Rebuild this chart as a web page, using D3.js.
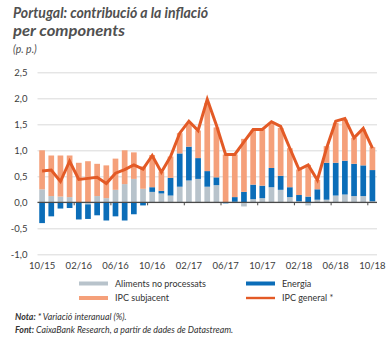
<!DOCTYPE html>
<html>
<head>
<meta charset="utf-8">
<script src="https://cdn.jsdelivr.net/npm/d3@7"></script>
<style>
  body { margin: 0; background: #fff; }
  text { font-family: Lato, "Open Sans", sans-serif; }
</style>
</head>
<body>
<div id="chart"></div>
<script>
const months = [
  "10/15", "11/15", "12/15", "01/16", "02/16", "03/16", "04/16", "05/16", "06/16",
  "07/16", "08/16", "09/16", "10/16", "11/16", "12/16", "01/17", "02/17", "03/17",
  "04/17", "05/17", "06/17", "07/17", "08/17", "09/17", "10/17", "11/17", "12/17",
  "01/18", "02/18", "03/18", "04/18", "05/18", "06/18", "07/18", "08/18", "09/18", "10/18"
];
const tickLabels = ["10/15", "02/16", "06/16", "10/16", "02/17", "06/17", "10/17", "02/18", "06/18", "10/18"];
const yTicks = [-1, -0.5, 0, 0.5, 1, 1.5, 2, 2.5];

// contributions in p.p.
const aliments = [
  0.25, 0.12, 0.11, 0.10, 0.00, -0.04, 0.12, 0.08, 0.24, 0.35, 0.45, 0.26, 0.20,
  0.17, 0.13, 0.30, 0.42, 0.45, 0.30, 0.33, 0.00, 0.01, -0.08, 0.06, 0.08, 0.29,
  0.24, 0.10, 0.02, -0.06, 0.05, 0.05, 0.13, 0.15, 0.12, 0.12, 0.02
];
const energia = [
  -0.40, -0.27, -0.12, -0.11, -0.33, -0.28, -0.25, -0.35, -0.27, -0.35, -0.23, -0.06, 0.09,
  0.05, 0.34, 0.64, 0.65, 0.40, 0.30, 0.15, -0.02, 0.09, 0.20, 0.28, 0.24, 0.37,
  0.27, 0.19, 0.12, 0.11, 0.20, 0.71, 0.63, 0.65, 0.62, 0.59, 0.60
];
const subjacent = [
  0.75, 0.78, 0.79, 0.80, 0.76, 0.79, 0.62, 0.63, 0.60, 0.65, 0.51, 0.43, 0.62,
  0.37, 0.41, 0.39, 0.45, 0.53, 1.31, 0.96, 0.92, 0.82, 1.02, 1.04, 1.08, 0.87,
  0.92, 0.75, 0.49, 0.61, 0.18, 0.32, 0.77, 0.79, 0.50, 0.69, 0.44
];
const ipcGeneral = [
  0.60, 0.62, 0.40, 0.79, 0.44, 0.46, 0.48, 0.36, 0.56, 0.63, 0.72, 0.64, 0.90,
  0.58, 0.88, 1.33, 1.56, 1.38, 1.98, 1.48, 0.92, 0.92, 1.16, 1.40, 1.40, 1.55,
  1.46, 1.04, 0.63, 0.72, 0.43, 1.04, 1.56, 1.61, 1.24, 1.42, 1.04
];

const colors = {
  aliments: "#b8c3cb",
  energia: "#0b6db8",
  subjacent: "#f5a07a",
  general: "#e35a26"
};

const width = 390, height = 338;
const plot = { left: 37.5, right: 377 };

const rows = months.map((m, i) => ({
  month: m,
  aliments: aliments[i],
  energia: energia[i],
  subjacent: subjacent[i],
  general: ipcGeneral[i]
}));

const keys = ["aliments", "energia", "subjacent"];
const series = d3.stack().keys(keys).offset(d3.stackOffsetDiverging)(rows);

const locale = d3.formatLocale({ decimal: ",", thousands: ".", grouping: [3], currency: ["", ""], minus: "-" });
const fmt = locale.format(".1f");

const svg = d3.select("#chart").append("svg")
  .attr("width", width)
  .attr("height", height);

const x = d3.scaleBand()
  .domain(months)
  .range([plot.left, plot.right])
  .paddingInner(0.38)
  .paddingOuter(0.19);

const y = d3.scaleLinear()
  .domain([-1, 2.5])
  .range([254.3, 72.3]);

// title
const title = svg.append("g").attr("fill", "#505050")
  .attr("font-weight", "bold").attr("font-style", "italic");
title.append("text").attr("x", 13).attr("y", 18).attr("font-size", 14.5)
  .attr("textLength", 195).attr("lengthAdjust", "spacingAndGlyphs")
  .text("Portugal: contribució a la inflació");
title.append("text").attr("x", 13).attr("y", 36).attr("font-size", 14.5)
  .attr("textLength", 112).attr("lengthAdjust", "spacingAndGlyphs")
  .text("per components");
svg.append("text").attr("x", 13).attr("y", 53).attr("font-size", 10.5)
  .attr("font-style", "italic").attr("fill", "#505050")
  .text("(p. p.)");

// y grid + labels
const yAxis = svg.append("g")
  .attr("transform", `translate(${plot.left},0)`)
  .call(d3.axisLeft(y)
    .tickValues(yTicks)
    .tickSize(-(plot.right - plot.left))
    .tickPadding(10)
    .tickFormat(fmt));
yAxis.select(".domain").remove();
yAxis.selectAll(".tick line").attr("stroke", "#d0d0d0").attr("stroke-width", 0.8);
yAxis.selectAll(".tick text").attr("fill", "#3c3c3c").attr("font-size", 9.5)
  .style("font-family", "Lato, sans-serif");

// stacked bars
svg.append("g")
  .selectAll("g")
  .data(series)
  .join("g")
  .attr("fill", d => colors[d.key])
  .selectAll("rect")
  .data(d => d)
  .join("rect")
  .attr("x", d => x(d.data.month))
  .attr("y", d => y(Math.max(d[0], d[1])))
  .attr("height", d => Math.abs(y(d[0]) - y(d[1])))
  .attr("width", x.bandwidth());

// zero line with small ticks at the labelled months
const gap = (x.step() - x.bandwidth()) / 2;
svg.append("line")
  .attr("x1", plot.left).attr("x2", plot.right)
  .attr("y1", y(0)).attr("y2", y(0))
  .attr("stroke", "#4a4a4a").attr("stroke-width", 1.2);
svg.append("g")
  .selectAll("line")
  .data(tickLabels.slice(1))
  .join("line")
  .attr("x1", d => x(d) - gap).attr("x2", d => x(d) - gap)
  .attr("y1", y(0)).attr("y2", y(0) + 3)
  .attr("stroke", "#4a4a4a").attr("stroke-width", 1);

// IPC general line
const line = d3.line()
  .x(d => x(d.month) + x.bandwidth() / 2)
  .y(d => y(d.general));
svg.append("path")
  .datum(rows)
  .attr("fill", "none")
  .attr("stroke", colors.general)
  .attr("stroke-width", 3)
  .attr("stroke-linejoin", "miter")
  .attr("d", line);

// x axis labels
const xAxis = svg.append("g")
  .attr("transform", "translate(0,258)")
  .call(d3.axisBottom(x).tickValues(tickLabels).tickSize(0).tickPadding(4));
xAxis.select(".domain").remove();
xAxis.selectAll(".tick text").attr("fill", "#3c3c3c").attr("font-size", 9.5)
  .style("font-family", "Lato, sans-serif");

// legend
const legendItems = [
  { label: "Aliments no processats", key: "aliments", type: "bar", x: 79, y: 283.5 },
  { label: "Energia", key: "energia", type: "bar", x: 246, y: 283.5 },
  { label: "IPC subjacent", key: "subjacent", type: "bar", x: 79, y: 298 },
  { label: "IPC general *", key: "general", type: "line", x: 246, y: 298 }
];
const legend = svg.append("g")
  .selectAll("g")
  .data(legendItems)
  .join("g")
  .attr("transform", d => `translate(${d.x},${d.y})`);
legend.append("rect")
  .attr("x", 0).attr("width", 29)
  .attr("y", d => d.type === "bar" ? -2 : -1.2)
  .attr("height", d => d.type === "bar" ? 4 : 2.4)
  .attr("fill", d => colors[d.key]);
legend.append("text")
  .attr("x", 36).attr("y", 3.3)
  .attr("font-size", 9).attr("fill", "#333")
  .text(d => d.label);

// notes
const nota = svg.append("text").attr("x", 15).attr("y", 320)
  .attr("font-size", 8.8).attr("font-style", "italic").attr("fill", "#333");
nota.append("tspan").attr("font-weight", "bold").text("Nota: ");
nota.append("tspan").text("* Variació interanual (%).");
const font = svg.append("text").attr("x", 15).attr("y", 333)
  .attr("font-size", 8.8).attr("font-style", "italic").attr("fill", "#333");
font.append("tspan").attr("font-weight", "bold").text("Font: ");
font.append("tspan").text("CaixaBank Research, a partir de dades de Datastream.");
</script>
</body>
</html>
